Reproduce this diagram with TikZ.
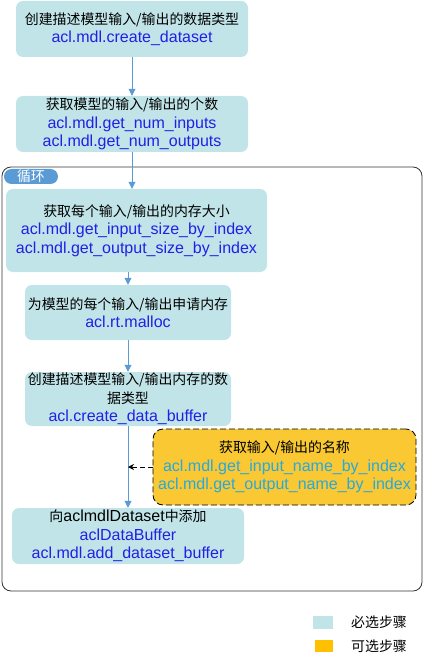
\documentclass[tikz,border=0pt]{standalone}
\usepackage{fontspec}
\setmainfont{Liberation Sans}
\newfontfamily\cjk{Noto Sans CJK SC}[Scale=0.87]
\usetikzlibrary{arrows.meta}
\definecolor{boxfill}{RGB}{193,228,232}
\definecolor{optfill}{RGB}{249,200,50}
\definecolor{legyellow}{RGB}{255,192,0}
\definecolor{codeblue}{RGB}{32,32,230}
\definecolor{optcode}{RGB}{40,168,222}
\definecolor{arrowblue}{RGB}{91,155,213}
\begin{document}
\begin{tikzpicture}[x=1pt,y=-1pt,
  txt/.style={font=\fontsize{16}{18.5}\selectfont, align=center, inner sep=0pt},
  stepbox/.style={txt, fill=boxfill, rounded corners=7pt},
  optbox/.style={txt, fill=optfill, draw=black, line width=0.8pt, dash pattern=on 6pt off 3pt, rounded corners=10pt},
  flow/.style={draw=arrowblue, line width=0.8pt, -{Triangle[width=7pt,length=7pt]}},
  optflow/.style={draw=black, line width=0.8pt, dash pattern=on 5pt off 3pt, -{Stealth[width=6pt,length=6pt]}},
  code/.style={text=codeblue}]
\useasboundingbox (0,0) rectangle (427,660);

% loop container
\node[draw=black!80, line width=0.8pt, rounded corners=9pt, minimum width=420pt, minimum height=424pt, inner sep=0pt] (loop) at (212,379) {};
\node[fill=arrowblue, rounded corners=7.5pt, minimum width=54pt, minimum height=15pt, inner sep=0pt, text=white, font=\fontsize{16}{16}\selectfont] (looplabel) at (31,176.5) {\cjk 循环};

\node[stepbox, minimum width=232pt, minimum height=56pt] (b1) at (132,29)
  {\cjk 创建描述模型输入/输出的数据类型\\\textcolor{codeblue}{acl.mdl.create\_dataset}};
\node[stepbox, minimum width=232pt, minimum height=56pt] (b2) at (132,124)
  {\cjk 获取模型的输入/输出的个数\\\textcolor{codeblue}{acl.mdl.get\_num\_inputs}\\\textcolor{codeblue}{acl.mdl.get\_num\_outputs}};
\node[stepbox, minimum width=261pt, minimum height=83pt] (b3) at (136.5,230.5)
  {\cjk 获取每个输入/输出的内存大小\\\textcolor{codeblue}{acl.mdl.get\_input\_size\_by\_index}\\\textcolor{codeblue}{acl.mdl.get\_output\_size\_by\_index}};
\node[stepbox, minimum width=206pt, minimum height=55pt] (b4) at (128,312.5)
  {\cjk 为模型的每个输入/输出申请内存\\\textcolor{codeblue}{acl.rt.malloc}};
\node[stepbox, minimum width=206pt, minimum height=54pt] (b5) at (128,399)
  {\cjk 创建描述模型输入/输出内存的数\\\cjk 据类型\\\textcolor{codeblue}{acl.create\_data\_buffer}};
\node[optbox, minimum width=263pt, minimum height=76pt] (opt) at (284.5,467)
  {\cjk 获取输入/输出的名称\\\textcolor{optcode}{acl.mdl.get\_input\_name\_by\_index}\\\textcolor{optcode}{acl.mdl.get\_output\_name\_by\_index}};
\node[stepbox, minimum width=232pt, minimum height=56pt] (b6) at (128,536)
  {{\cjk 向}aclmdlDataset{\cjk 中添加}\\\textcolor{codeblue}{aclDataBuffer}\\\textcolor{codeblue}{acl.mdl.add\_dataset\_buffer}};

% connectors
\draw[flow] (b1.south) -- (b2.north);
\draw[flow] (b2.south) -- (b2.south |- b3.north);
\draw[flow] (b4.north |- b3.south) -- (b4.north);
\draw[flow] (b4.south) -- (b5.north);
\draw[flow] (b5.south) -- (b6.north);
\draw[optflow] (opt.west) -- (opt.west -| b5.south);

% legend
\node[fill=boxfill, minimum width=20pt, minimum height=13pt, inner sep=0pt] (leg1) at (323,622.5) {};
\node[txt, anchor=west] (leg1t) at (351,622.5) {\cjk 必选步骤};
\node[fill=legyellow, minimum width=18pt, minimum height=12pt, inner sep=0pt] (leg2) at (324,646) {};
\node[txt, anchor=west] (leg2t) at (351,646) {\cjk 可选步骤};
\end{tikzpicture}
\end{document}
